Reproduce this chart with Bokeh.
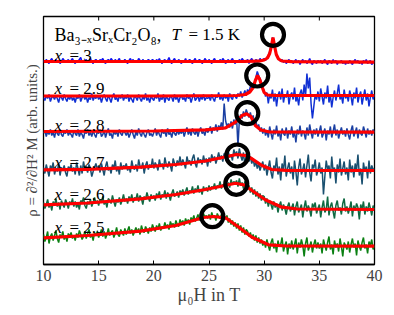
import numpy as np
from bokeh.plotting import figure
from bokeh.models import Range1d, FixedTicker
from bokeh.embed import file_html
from bokeh.resources import INLINE
from bokeh.core.properties import value

# ---------------- data ----------------
field_T = np.arange(10.0, 40.0001, 0.125)   # measured field grid (241 points)

compositions = ["3", "2.9", "2.8", "2.7", "2.6", "2.5"]
colors = ["#1010f0", "#1030d4", "#1a3fa2", "#1a5070", "#0f6a42", "#0a8012"]

data_x3 = [
    204, 202, 205, 203, 201, 204, 206, 203, 202, 205, 203, 204, 201, 203, 206, 204, 202, 203, 205, 202,
    204, 206, 203, 201, 204, 203, 205, 207, 202, 204, 203, 205, 202, 204, 206, 203, 201, 204, 205, 203,
    202, 205, 204, 206, 203, 201, 204, 205, 203, 206, 204, 202, 205, 203, 204, 206, 202, 204, 203, 205,
    203, 201, 204, 206, 203, 205, 202, 204, 203, 206, 204, 202, 205, 203, 204, 203, 205, 204, 203, 205,
    204, 202, 205, 203, 206, 203, 201, 204, 205, 202, 204, 207, 203, 201, 204, 206, 203, 202, 205, 203,
    201, 204, 203, 206, 202, 204, 205, 203, 201, 204, 206, 202, 203, 205, 204, 201, 203, 206, 204, 202,
    205, 203, 201, 204, 206, 203, 204, 202, 205, 203, 206, 204, 201, 203, 205, 202, 204, 206, 203, 201,
    204, 202, 205, 203, 206, 204, 202, 203, 205, 201, 204, 206, 203, 202, 205, 204, 203, 206, 204, 205,
    206, 204, 207, 209, 213, 218, 227, 224, 215, 210, 206, 205, 203, 205, 202, 204, 201, 203, 205, 202,
    204, 201, 203, 205, 202, 204, 200, 203, 205, 202, 204, 201, 203, 206, 202, 200, 204, 203, 201, 204,
    202, 204, 201, 203, 205, 202, 200, 204, 203, 201, 205, 202, 204, 200, 203, 202, 204, 201, 203, 200,
    203, 201, 204, 202, 200, 203, 205, 202, 204, 201, 203, 200, 204, 202, 205, 201, 203, 204, 200, 202,
    203]
data_x29 = [
    167, 164, 169, 166, 170, 163, 167, 168, 165, 169, 166, 162, 168, 167, 164, 170, 166, 163, 168, 165,
    169, 164, 167, 162, 168, 166, 170, 163, 167, 169, 165, 168, 162, 167, 165, 171, 164, 168, 166, 169,
    165, 168, 162, 167, 170, 166, 163, 169, 166, 162, 168, 171, 165, 167, 163, 169, 166, 170, 164, 168,
    166, 170, 163, 168, 165, 162, 169, 167, 164, 170, 166, 163, 168, 165, 171, 164, 167, 162, 168, 166,
    164, 169, 166, 171, 163, 167, 165, 170, 162, 168, 166, 164, 169, 167, 163, 170, 165, 168, 162, 167,
    169, 165, 167, 163, 170, 166, 168, 162, 167, 171, 164, 166, 169, 163, 168, 165, 170, 164, 167, 166,
    168, 164, 170, 166, 163, 169, 167, 172, 165, 168, 164, 170, 166, 169, 163, 171, 167, 165, 170, 168,
    166, 171, 168, 173, 167, 170, 174, 169, 175, 172, 178, 176, 181, 179, 187, 193, 189, 186, 182, 176,
    174, 168, 172, 161, 170, 166, 175, 163, 171, 158, 169, 173, 165, 176, 162, 170, 167, 174, 160, 169,
    172, 165, 177, 163, 168, 159, 171, 175, 164, 180, 168, 191, 176, 187, 161, 146, 158, 170, 165, 173,
    163, 176, 168, 160, 172, 166, 179, 162, 170, 157, 167, 174, 164, 171, 180, 165, 169, 161, 175, 166,
    170, 163, 174, 168, 159, 172, 166, 177, 162, 169, 173, 160, 168, 175, 164, 171, 158, 167, 174, 165,
    170]
data_x28 = [
    131, 134, 128, 133, 130, 135, 129, 132, 127, 134, 131, 129, 135, 130, 128, 133, 131, 135, 129, 132,
    130, 127, 134, 131, 129, 135, 128, 132, 130, 126, 133, 131, 135, 129, 132, 128, 134, 130, 127, 133,
    131, 135, 128, 130, 134, 127, 132, 136, 129, 131, 126, 134, 130, 133, 128, 135, 131, 129, 134, 132,
    129, 133, 127, 131, 135, 130, 126, 133, 129, 136, 131, 128, 134, 130, 127, 132, 135, 129, 131, 128,
    132, 136, 129, 134, 130, 127, 135, 131, 133, 128, 136, 130, 132, 127, 134, 131, 129, 135, 130, 133,
    131, 135, 128, 133, 137, 130, 134, 129, 136, 132, 130, 135, 128, 134, 137, 131, 133, 129, 136, 132,
    134, 138, 131, 137, 134, 140, 133, 139, 136, 142, 135, 161, 144, 138, 141, 137, 143, 136, 145, 140,
    147, 118, 144, 150, 146, 153, 148, 155, 151, 147, 152, 145, 149, 141, 143, 137, 140, 133, 137, 131,
    136, 129, 134, 127, 138, 131, 125, 135, 130, 139, 128, 133, 124, 136, 131, 129, 137, 126, 134, 130,
    138, 127, 133, 122, 135, 130, 139, 128, 134, 131, 125, 137, 129, 140, 132, 126, 135, 130, 136, 128,
    133, 139, 127, 131, 136, 124, 134, 130, 138, 127, 133, 140, 129, 135, 126, 132, 137, 130, 134, 128,
    136, 130, 125, 134, 139, 128, 132, 137, 126, 135, 131, 129, 138, 133, 127, 136, 130, 134, 129, 135,
    132]
data_x27 = [
    97, 91, 100, 94, 88, 99, 95, 102, 90, 96, 93, 101, 89, 97, 94, 99, 92, 88, 98, 95,
    100, 93, 97, 90, 102, 96, 89, 99, 91, 103, 95, 98, 92, 100, 96, 88, 93, 97, 101, 95,
    99, 92, 101, 95, 89, 98, 103, 94, 97, 91, 100, 96, 104, 93, 98, 90, 102, 95, 99, 97,
    101, 94, 98, 92, 104, 97, 95, 100, 93, 105, 98, 96, 102, 91, 99, 103, 95, 100, 97, 106,
    96, 102, 99, 94, 105, 98, 101, 95, 107, 100, 97, 103, 99, 93, 106, 101, 98, 104, 100, 108,
    99, 105, 101, 96, 108, 102, 104, 99, 106, 110, 101, 97, 107, 103, 105, 100, 109, 102, 106, 98,
    107, 102, 110, 104, 108, 101, 106, 112, 105, 109, 103, 111, 108, 106, 113, 107, 110, 104, 115, 109,
    113, 106, 116, 109, 104, 112, 99, 110, 114, 103, 108, 101, 106, 98, 103, 96, 101, 94, 99, 103,
    94, 100, 89, 97, 104, 92, 86, 99, 95, 107, 90, 98, 84, 101, 94, 109, 88, 96, 102, 91,
    98, 85, 104, 93, 79, 97, 106, 90, 95, 101, 87, 99, 110, 92, 83, 100, 96, 105, 89, 94,
    102, 91, 97, 70, 88, 104, 95, 99, 86, 108, 93, 97, 81, 100, 92, 106, 89, 96, 103, 90,
    97, 84, 105, 92, 99, 87, 101, 94, 110, 89, 96, 80, 102, 93, 98, 86, 104, 91, 99, 95,
    96]
data_x26 = [
    62, 56, 60, 65, 57, 61, 54, 63, 59, 66, 58, 62, 55, 64, 60, 57, 65, 61, 56, 63,
    60, 66, 58, 63, 57, 61, 55, 64, 62, 67, 59, 56, 63, 60, 65, 58, 62, 67, 61, 64,
    59, 65, 62, 68, 60, 63, 57, 66, 64, 61, 69, 63, 58, 65, 62, 67, 60, 64, 70, 63,
    66, 61, 68, 64, 70, 62, 67, 65, 71, 63, 69, 66, 60, 68, 65, 72, 67, 63, 70, 66,
    69, 64, 71, 67, 73, 65, 70, 68, 74, 66, 72, 69, 64, 71, 75, 68, 70, 73, 67, 74,
    71, 75, 69, 73, 77, 70, 74, 72, 78, 71, 76, 73, 79, 72, 75, 70, 78, 74, 77, 73,
    79, 74, 78, 76, 81, 75, 79, 77, 83, 76, 80, 78, 84, 79, 82, 77, 85, 80, 83, 81,
    84, 78, 86, 79, 82, 76, 83, 80, 75, 79, 72, 77, 70, 75, 68, 73, 66, 71, 64, 69,
    68, 61, 66, 58, 64, 60, 55, 63, 57, 61, 52, 59, 63, 54, 60, 56, 50, 58, 62, 53,
    57, 61, 49, 58, 63, 52, 56, 60, 47, 57, 64, 53, 59, 55, 48, 61, 57, 62, 51, 56,
    60, 47, 57, 64, 52, 55, 68, 49, 58, 62, 53, 46, 59, 64, 54, 57, 50, 61, 66, 53,
    58, 51, 56, 63, 48, 59, 54, 61, 57, 45, 60, 55, 63, 50, 58, 53, 62, 56, 49, 59,
    55]
data_x25 = [
    30, 23, 27, 33, 21, 28, 31, 24, 29, 34, 26, 22, 30, 27, 33, 25, 29, 23, 31, 28,
    32, 26, 29, 24, 31, 27, 34, 30, 25, 28, 33, 26, 31, 35, 27, 30, 24, 32, 29, 33,
    27, 31, 35, 28, 33, 26, 30, 36, 29, 32, 34, 27, 31, 37, 30, 28, 35, 32, 29, 36,
    30, 34, 38, 31, 35, 29, 33, 37, 32, 36, 30, 39, 34, 32, 38, 35, 31, 37, 33, 40,
    36, 33, 39, 35, 41, 34, 38, 36, 42, 37, 40, 35, 43, 39, 41, 37, 44, 40, 38, 45,
    41, 44, 39, 46, 42, 45, 40, 47, 44, 49, 43, 46, 50, 44, 48, 45, 51, 47, 49, 46,
    50, 45, 52, 47, 49, 44, 51, 48, 46, 50, 43, 48, 45, 49, 42, 46, 40, 44, 38, 42,
    36, 41, 34, 39, 32, 37, 30, 35, 33, 28, 32, 26, 30, 24, 29, 22, 27, 21, 25, 19,
    23, 17, 25, 19, 14, 22, 26, 16, 21, 12, 24, 18, 20, 27, 13, 19, 23, 10, 21, 16,
    24, 15, 20, 26, 11, 22, 17, 25, 19, 8, 21, 27, 14, 18, 23, 12, 20, 25, 16, 22,
    16, 21, 11, 25, 19, 14, 22, 28, 15, 20, 10, 24, 17, 21, 13, 26, 18, 8, 22, 19,
    15, 23, 12, 20, 26, 17, 21, 9, 24, 18, 14, 22, 27, 16, 20, 11, 23, 19, 25, 15,
    19]

# fitted curves (red)
fit_x3_T = [10, 20, 28, 29.5, 30.0, 30.3, 30.5, 30.65, 30.8, 30.95, 31.1, 31.3, 31.6, 32.5, 40]
fit_x3_y = [203, 203, 203, 203.3, 204.5, 206.5, 211, 218, 227, 218, 210, 205.5, 203.5, 202.8, 202.4]
fit_x29_T = [10, 20, 27.5, 28.3, 28.7, 29.0, 29.2, 29.4, 29.6, 29.8, 30.0, 30.3, 31, 40]
fit_x29_y = [168.5, 168.5, 169, 170, 172.5, 177, 184, 189, 185, 178, 172, 169.5, 169, 169]
fit_x28_T = [10, 20, 24.7, 26.5, 27.4, 28.0, 28.4, 28.8, 29.2, 29.7, 30.5, 40]
fit_x28_y = [133, 133.5, 134.7, 136.7, 142.3, 149, 150.7, 148, 139, 134.5, 132.5, 132.3]
fit_x27_T = [10, 14, 18.8, 22, 24.7, 26, 27.5, 28.3, 28.9, 29.8, 30.7, 32, 40]
fit_x27_y = [94.7, 95.2, 97.3, 100, 103.5, 106.5, 110, 109, 105.7, 99, 95, 94.2, 94]
fit_x26_T = [10, 14, 18.8, 22, 24.7, 26, 27.4, 28.2, 28.9, 30.1, 31.6, 33, 40]
fit_x26_y = [59.7, 61.5, 65.7, 70, 75, 78, 81.3, 79.5, 74, 64.7, 57.3, 55.5, 55]
fit_x25_T = [10, 14, 18.8, 22, 24.5, 25.4, 26.5, 27.7, 28.9, 30.4, 32, 40]
fit_x25_y = [26.7, 29, 33.3, 39, 47, 48, 46.7, 37.3, 27.3, 19.7, 18.5, 18.3]

# peak markers
peak_T = [30.8, 29.37, 28.47, 27.56, 27.47, 25.3]
peak_y = [229.7, 189, 151.3, 109, 80.7, 48.3]

# label anchors
label_T = 11.0
label_y = [209, 176, 139, 102, 70, 36.7]

x_ticks = [10, 15, 20, 25, 30, 35, 40]

series = [data_x3, data_x29, data_x28, data_x27, data_x26, data_x25]
assert all(len(s) == len(field_T) for s in series), [len(s) for s in series]
fits = [(fit_x3_T, fit_x3_y), (fit_x29_T, fit_x29_y), (fit_x28_T, fit_x28_y),
        (fit_x27_T, fit_x27_y), (fit_x26_T, fit_x26_y), (fit_x25_T, fit_x25_y)]

# ---------------- figure ----------------
SERIF = "Liberation Serif"
Y_TOP = 248
p = figure(width=386, height=308, output_backend="svg", toolbar_location=None,
           x_range=Range1d(10, 40), y_range=Range1d(0, Y_TOP),
           min_border_left=43, min_border_right=12, min_border_top=16, min_border_bottom=44)
p.grid.visible = False
p.outline_line_color = "black"
p.outline_line_width = 1.3
p.background_fill_color = "white"
p.border_fill_color = "white"

xa = p.xaxis[0]
xa.ticker = FixedTicker(ticks=x_ticks)
xa.major_tick_in = 4
xa.major_tick_out = 0
xa.minor_tick_line_color = None
xa.axis_line_width = 1.3
xa.major_label_text_font = SERIF
xa.major_label_text_font_size = "16px"
xa.major_label_standoff = 5
xa.axis_label = "μ₀H in T"
xa.axis_label_text_font = SERIF
xa.axis_label_text_font_style = "normal"
xa.axis_label_text_font_size = "18px"
xa.axis_label_standoff = 1

ya = p.yaxis[0]
ya.ticker = FixedTicker(ticks=[])
ya.major_tick_in = 0
ya.major_tick_out = 0
ya.minor_tick_line_color = None
ya.major_label_standoff = 0
ya.axis_line_color = None
ya.axis_label = "ρ = ∂²/∂H² M (arb. units.)"
ya.axis_label_text_font = SERIF
ya.axis_label_text_font_style = "normal"
ya.axis_label_text_font_size = "15px"
ya.axis_label_standoff = 4

# inward ticks on the top spine
p.segment(x0=x_ticks, y0=[Y_TOP] * len(x_ticks), x1=x_ticks, y1=[Y_TOP - 4] * len(x_ticks),
          line_color="black", line_width=1)

for ys, c in zip(series, colors):
    p.line(field_T, ys, line_color=c, line_width=1.5)

for (ft, fy) in fits:
    p.line(ft, fy, line_color="#ff0000", line_width=3.2)

p.scatter(peak_T, peak_y, marker="circle", size=22, fill_color=None,
          line_color="black", line_width=4.2)

for comp, ly in zip(compositions, label_y):
    p.text([label_T], [ly], text=["x"], text_font=value(SERIF), text_font_style="italic",
           text_font_size="17px", text_baseline="alphabetic", text_color="black")
    p.text([label_T], [ly], text=["= " + comp], text_font=value(SERIF), x_offset=15,
           text_font_size="17px", text_baseline="alphabetic", text_color="black")

title_y = 230
p.text([label_T], [title_y], text=["Ba₃₋ₓSrₓCr₂O₈,"], text_font=value(SERIF),
       text_font_size="18px", text_baseline="alphabetic", text_color="black")
p.text([label_T], [title_y], text=["T"], text_font=value(SERIF), text_font_style="italic",
       x_offset=117, text_font_size="17px", text_baseline="alphabetic", text_color="black")
p.text([label_T], [title_y], text=["= 1.5 K"], text_font=value(SERIF),
       x_offset=134, text_font_size="17px", text_baseline="alphabetic", text_color="black")

open("out.html", "w").write(file_html(p, INLINE))
